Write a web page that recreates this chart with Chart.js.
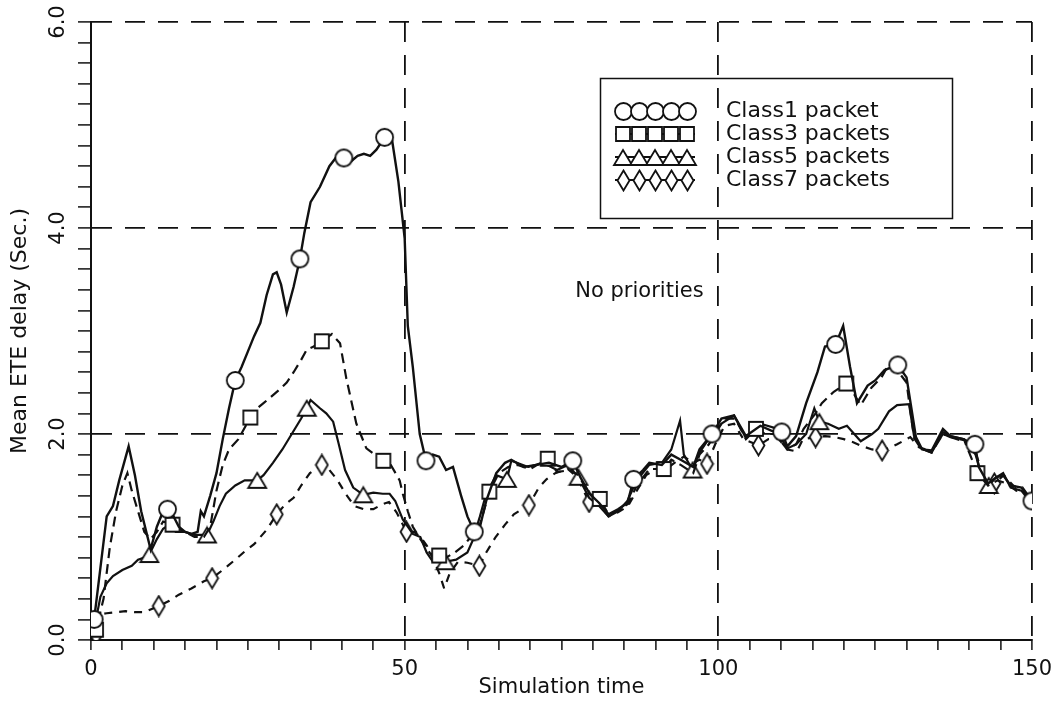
<!DOCTYPE html>
<html>
<head>
<meta charset="utf-8">
<title>Mean ETE delay - no priorities</title>
<script src="https://cdn.jsdelivr.net/npm/chart.js@4.4.1/dist/chart.umd.min.js"></script>
<style>
  html, body { margin: 0; padding: 0; background: #fff; }
  canvas { display: block; }
</style>
</head>
<body>
<canvas id="delay" width="1063" height="705"></canvas>
<script>
// mean end-to-end delay per packet class, sampled over simulation time
const c1Time = [0, 0.5, 1.5, 2.5, 3.5, 4.5, 6, 7, 8, 9.5, 10.5, 11.5, 12.2, 13, 14, 15, 16, 17, 17.5, 18, 19, 20, 21, 22, 23, 24, 25, 26, 27, 28, 29, 29.6, 30.3, 31.2, 32.3, 33.3, 34, 35, 36.5, 38, 39, 40.3, 41.5, 42.5, 43.5, 44.5, 45.5, 46.8, 48, 49, 50, 50.5, 51.3, 52.4, 53.4, 54.5, 55.5, 56.6, 57.7, 59, 60, 61.1, 62, 63, 64.6, 66, 67, 69, 71, 73, 75, 76.8, 78, 79.5, 81, 82.5, 84, 85.5, 86.5, 88, 89, 91, 92.5, 94, 96, 97, 99, 100.5, 102.5, 104.4, 106.7, 108.5, 110.1, 111, 112.4, 114, 115.8, 117, 118.7, 119.9, 121, 122.1, 123.8, 125, 126.5, 128.6, 130, 131.5, 132.5, 134, 135.8, 137, 139, 140.9, 141.5, 143, 144.3, 145.4, 146.6, 148.3, 150];
const c1Delay = [0.15, 0.2, 0.7, 1.2, 1.3, 1.55, 1.88, 1.6, 1.25, 0.88, 1.1, 1.25, 1.27, 1.22, 1.1, 1.05, 1.03, 1.05, 1.25, 1.2, 1.4, 1.62, 1.95, 2.25, 2.52, 2.65, 2.8, 2.95, 3.08, 3.35, 3.55, 3.57, 3.45, 3.18, 3.43, 3.7, 3.95, 4.25, 4.4, 4.6, 4.68, 4.68, 4.65, 4.7, 4.72, 4.7, 4.76, 4.88, 4.85, 4.45, 3.9, 3.05, 2.65, 2.0, 1.74, 1.8, 1.78, 1.65, 1.68, 1.4, 1.2, 1.05, 1.1, 1.35, 1.62, 1.72, 1.75, 1.68, 1.7, 1.72, 1.68, 1.74, 1.58, 1.42, 1.33, 1.22, 1.27, 1.33, 1.56, 1.65, 1.72, 1.7, 1.8, 1.75, 1.68, 1.85, 2.0, 2.15, 2.18, 1.98, 2.08, 2.03, 2.02, 1.88, 1.98, 2.3, 2.6, 2.85, 2.87, 3.05, 2.65, 2.3, 2.47, 2.52, 2.62, 2.67, 2.55, 1.97, 1.85, 1.84, 2.05, 1.98, 1.95, 1.9, 1.68, 1.52, 1.58, 1.6, 1.5, 1.48, 1.35];
const c1Marks = [0.5, 12.2, 23, 33.3, 40.3, 46.8, 53.4, 61.1, 76.8, 86.5, 99, 110.1, 118.7, 128.6, 140.9, 150];

const c3Time = [0, 0.8, 2, 3, 4, 5, 5.8, 6.5, 7.5, 8.5, 9.5, 10.5, 11.5, 13, 14, 15, 16.5, 18, 19, 20, 21, 22, 23.5, 25.4, 26.5, 27.5, 28.5, 30.2, 31.2, 32.3, 33.5, 34.4, 35.5, 36.8, 38.4, 39.7, 40.7, 42.3, 43.9, 46.6, 47.6, 49.2, 49.7, 50.5, 51.3, 52.5, 53.4, 54.5, 55.5, 56.6, 58, 59.5, 60.5, 61.9, 63.5, 65, 66.5, 68, 70, 72.8, 74.3, 76.3, 77.7, 79.4, 81.1, 82.5, 84, 85.6, 87, 89, 91.3, 92.5, 94, 96, 97, 98.5, 100, 101, 102.7, 104.4, 106, 107.5, 109, 111, 112.4, 113.6, 115.5, 116.5, 118.4, 120.4, 121.5, 122.7, 124.4, 126, 127.2, 128.5, 130, 131.2, 132.3, 134, 135.8, 137, 139.2, 141.3, 143, 144.5, 146, 147.5, 148.5, 150];
const c3Delay = [0.05, 0.1, 0.4, 0.9, 1.25, 1.5, 1.62, 1.45, 1.25, 1.05, 0.98, 1.05, 1.15, 1.12, 1.08, 1.05, 1.0, 1.0, 1.1, 1.45, 1.7, 1.85, 1.95, 2.16, 2.25, 2.3, 2.35, 2.44, 2.5, 2.6, 2.72, 2.82, 2.85, 2.9, 2.97, 2.88, 2.54, 2.1, 1.86, 1.74, 1.72, 1.55, 1.42, 1.25, 1.1, 0.98, 0.9, 0.8, 0.82, 0.8, 0.85, 0.92, 1.0, 1.1, 1.44, 1.62, 1.68, 1.7, 1.66, 1.76, 1.63, 1.65, 1.6, 1.42, 1.37, 1.22, 1.26, 1.32, 1.5, 1.66, 1.66, 1.75, 1.7, 1.62, 1.8, 1.9, 2.05, 2.15, 2.15, 1.95, 2.05, 2.0, 2.0, 1.85, 1.9, 2.05, 2.2, 2.3, 2.41, 2.49, 2.4, 2.28, 2.45, 2.55, 2.68, 2.62, 2.5, 1.96, 1.86, 1.82, 2.0, 1.97, 1.94, 1.62, 1.5, 1.55, 1.52, 1.45, 1.48, 1.35];
const c3Marks = [0.8, 13, 25.4, 36.8, 46.6, 55.5, 63.5, 72.8, 81.1, 91.3, 106, 120.4, 141.3];

const c5Time = [0, 0.8, 1.5, 2.5, 3.5, 5, 6.5, 7.5, 8.5, 9.3, 10.5, 11.5, 12.5, 13.5, 15, 16.5, 18.5, 19.5, 20.5, 21.5, 23, 24.5, 26.5, 27.5, 29, 30.5, 32, 33.5, 34.4, 35, 36.5, 37.5, 38.6, 39.5, 40.5, 41.8, 43.4, 45, 46.5, 47.6, 48.5, 49.7, 51.3, 52.5, 53.5, 54.5, 56.5, 58.2, 60, 60.8, 62, 63, 64.6, 66.3, 67, 69.7, 72, 74.3, 76, 77.7, 79.4, 81, 82.5, 84, 85.5, 87, 89, 91, 92.5, 93.9, 94.5, 95.9, 97, 99, 100.5, 102.5, 104.4, 106.7, 109, 111, 112.4, 114, 115.3, 116.1, 117.5, 119.2, 120.5, 122.7, 124.5, 125.5, 127.2, 128.5, 130.4, 131.2, 132.3, 134, 135.8, 137, 139.2, 141, 142, 143.1, 144.3, 145.4, 146.6, 148.3, 150];
const c5Delay = [0.1, 0.2, 0.42, 0.55, 0.62, 0.68, 0.72, 0.78, 0.8, 0.83, 0.98, 1.08, 1.12, 1.05, 1.05, 1.02, 1.02, 1.15, 1.3, 1.42, 1.5, 1.55, 1.55, 1.6, 1.72, 1.85, 2.0, 2.15, 2.25, 2.33, 2.25, 2.2, 2.12, 1.9, 1.65, 1.48, 1.41, 1.43, 1.42, 1.42, 1.35, 1.17, 1.03, 1.0, 0.85, 0.76, 0.76, 0.78, 0.85, 0.96, 1.2, 1.42, 1.6, 1.56, 1.74, 1.68, 1.72, 1.65, 1.7, 1.58, 1.38, 1.3, 1.2, 1.25, 1.35, 1.55, 1.7, 1.72, 1.85, 2.13, 1.8, 1.65, 1.82, 2.0, 2.1, 2.18, 1.96, 2.1, 2.06, 1.86, 1.9, 2.0, 2.25, 2.12, 2.1, 2.05, 2.08, 1.93, 2.0, 2.05, 2.22, 2.28, 2.29, 1.98, 1.86, 1.82, 2.02, 1.98, 1.95, 1.8, 1.6, 1.5, 1.58, 1.62, 1.48, 1.45, 1.32];
const c5Marks = [9.3, 18.5, 26.5, 34.4, 43.4, 56.5, 66.3, 77.7, 95.9, 116.1, 143.1];

const c7Time = [0, 0.8, 1.5, 2.5, 4, 5.5, 7, 8.5, 10.8, 12.5, 14, 16, 18, 19.3, 21, 22.8, 24.5, 26, 28, 29.6, 31, 32.3, 33.5, 34.9, 36.8, 38, 39.2, 40.7, 42, 43.5, 45, 46.5, 47.5, 48.7, 50.3, 51.5, 52.5, 53.5, 54.5, 55.5, 56.3, 57.2, 58.5, 60, 61.9, 63, 64.5, 66, 67.4, 69.8, 71.4, 72.6, 74, 76, 77.5, 79.4, 81, 82.5, 84, 85.6, 87, 88.5, 90, 91.5, 93, 94.5, 96, 97, 98.2, 99.5, 101, 102.5, 104, 106.4, 108, 109.5, 111, 112.5, 113.5, 115.5, 117, 118.5, 120, 121.5, 123, 124.5, 126.1, 127.5, 128.5, 130.6, 132, 134, 135.8, 137, 139, 141, 142.5, 144, 145.5, 147, 148.5, 150];
const c7Delay = [0.05, 0.05, 0.25, 0.26, 0.27, 0.28, 0.27, 0.27, 0.33, 0.38, 0.44, 0.5, 0.57, 0.6, 0.68, 0.77, 0.86, 0.93, 1.07, 1.22, 1.32, 1.38, 1.5, 1.62, 1.7, 1.65, 1.56, 1.41, 1.3, 1.27, 1.27, 1.32, 1.34, 1.24, 1.05, 1.05, 1.0, 0.92, 0.8, 0.65, 0.5, 0.65, 0.76, 0.75, 0.72, 0.85, 1.0, 1.12, 1.22, 1.31, 1.48, 1.56, 1.62, 1.66, 1.58, 1.34, 1.32, 1.2, 1.24, 1.3, 1.45, 1.6, 1.66, 1.65, 1.72, 1.78, 1.72, 1.75, 1.71, 1.9, 2.08, 2.1, 1.95, 1.89, 1.95, 1.96, 1.85, 1.83, 1.95, 1.97, 1.98, 1.97, 1.95, 1.92, 1.88, 1.85, 1.84, 1.87, 1.9, 1.97, 1.87, 1.83, 2.0, 1.97, 1.93, 1.82, 1.55, 1.52, 1.6, 1.5, 1.45, 1.33];
const c7Marks = [0.8, 10.8, 19.3, 29.6, 36.8, 50.3, 61.9, 69.8, 79.4, 98.2, 106.4, 115.5, 126.1, 144];

const classLabels = ['Class1 packet', 'Class3 packets', 'Class5 packets', 'Class7 packets'];
const noteText = 'No priorities';
const notePos = { x: 77.2, y: 3.33 };

const INK = '#111';
Chart.defaults.font.family = '"DejaVu Sans", sans-serif';
Chart.defaults.color = INK;

// hollow marker glyphs, used both on the curves and in the key
function makeMarker(kind) {
  const sizes = { circle: [21, 21], square: [18, 18], triangle: [22, 19], diamond: [15, 23] };
  const [w, h] = sizes[kind];
  const c = document.createElement('canvas');
  c.width = w; c.height = h;
  const g = c.getContext('2d');
  g.fillStyle = '#fff';
  g.strokeStyle = INK;
  g.lineWidth = 1.8;
  g.beginPath();
  if (kind === 'circle') {
    g.arc(w / 2, h / 2, 8.5, 0, Math.PI * 2);
  } else if (kind === 'square') {
    g.rect(2, 2, 14, 14);
  } else if (kind === 'triangle') {
    g.moveTo(w / 2, 2); g.lineTo(w - 2, h - 2); g.lineTo(2, h - 2); g.closePath();
  } else {
    g.moveTo(w / 2, 1.5); g.lineTo(w - 1.5, h / 2); g.lineTo(w / 2, h - 1.5); g.lineTo(1.5, h / 2); g.closePath();
  }
  g.fill();
  g.stroke();
  return c;
}

function series(times, values) {
  return times.map((t, i) => ({ x: t, y: values[i] }));
}

function markedAt(marks) {
  return (ctx) => (ctx.raw && marks.includes(ctx.raw.x)) ? 8 : 0;
}

const isMajor = (v, step) => {
  const r = Math.abs(v % step);
  return r < 1e-6 || Math.abs(r - step) < 1e-6;
};

// boxed key with a run of markers per class, plus the note in the plot
const keyBox = {
  id: 'keyBox',
  afterDraw(chart) {
    const ctx = chart.ctx;
    ctx.save();
    ctx.strokeStyle = INK;
    ctx.lineWidth = 1.5;
    ctx.setLineDash([]);
    ctx.strokeRect(600.5, 78.5, 352, 140);

    chart.data.datasets.forEach((ds, i) => {
      const y = Math.round(111 + i * 23);
      ctx.lineWidth = 2;
      ctx.beginPath();
      ctx.moveTo(615, y);
      ctx.lineTo(695, y);
      ctx.stroke();
      const img = ds.pointStyle;
      for (let k = 0; k < 5; k++) {
        ctx.drawImage(img, Math.round(623 + k * 16 - img.width / 2), Math.round(y - img.height / 2));
      }
      ctx.fillStyle = INK;
      ctx.font = '22px "DejaVu Sans"';
      ctx.textBaseline = 'middle';
      ctx.fillText(ds.label, 726, y);
    });

    const xs = chart.scales.x, ys = chart.scales.y;
    ctx.font = '21px "DejaVu Sans"';
    ctx.textBaseline = 'alphabetic';
    ctx.fillText(noteText, xs.getPixelForValue(notePos.x), ys.getPixelForValue(notePos.y));
    ctx.restore();
  }
};

new Chart(document.getElementById('delay'), {
  type: 'line',
  data: {
    datasets: [
      {
        label: classLabels[0],
        data: series(c1Time, c1Delay),
        borderColor: INK, borderWidth: 2.4,
        pointStyle: makeMarker('circle'), pointRadius: markedAt(c1Marks)
      },
      {
        label: classLabels[1],
        data: series(c3Time, c3Delay),
        borderColor: INK, borderWidth: 2.2, borderDash: [10, 6],
        pointStyle: makeMarker('square'), pointRadius: markedAt(c3Marks)
      },
      {
        label: classLabels[2],
        data: series(c5Time, c5Delay),
        borderColor: INK, borderWidth: 2.2,
        pointStyle: makeMarker('triangle'), pointRadius: markedAt(c5Marks)
      },
      {
        label: classLabels[3],
        data: series(c7Time, c7Delay),
        borderColor: INK, borderWidth: 2.2, borderDash: [8, 7],
        pointStyle: makeMarker('diamond'), pointRadius: markedAt(c7Marks)
      }
    ]
  },
  options: {
    responsive: false,
    animation: false,
    events: [],
    layout: { padding: { left: 0, right: 31, top: 22, bottom: 0 } },
    elements: { line: { tension: 0, fill: false } },
    plugins: { legend: { display: false }, tooltip: { enabled: false } },
    scales: {
      x: {
        type: 'linear', min: 0, max: 150,
        afterFit(scale) { scale.height = 65; },
        ticks: {
          stepSize: 5, autoSkip: false, maxRotation: 0, padding: 7,
          font: { size: 21 },
          callback: (v) => isMajor(v, 50) ? v : ''
        },
        grid: {
          color: (ctx) => (ctx.tick && ctx.tick.value > 0 && isMajor(ctx.tick.value, 50)) ? INK : 'rgba(0,0,0,0)',
          lineWidth: 1.8, tickColor: INK, tickWidth: 1.5, tickLength: 10
        },
        border: { color: INK, width: 2, dash: [20, 13] },
        title: { display: true, text: 'Simulation time', font: { size: 21 }, padding: { top: 0, bottom: 5 } }
      },
      y: {
        type: 'linear', min: 0, max: 6,
        afterFit(scale) { scale.width = 91; },
        ticks: {
          stepSize: 0.2, autoSkip: false, minRotation: 90, maxRotation: 90,
          crossAlign: 'center', padding: 3,
          font: { size: 21 },
          callback: (v) => isMajor(v, 2) ? v.toFixed(1) : ''
        },
        grid: {
          color: (ctx) => (ctx.tick && ctx.tick.value > 0 && isMajor(ctx.tick.value, 2)) ? INK : 'rgba(0,0,0,0)',
          lineWidth: 1.8, tickColor: INK, tickWidth: 1.5, tickLength: 13
        },
        border: { color: INK, width: 2, dash: [20, 13] },
        title: { display: true, text: 'Mean ETE delay (Sec.)', font: { size: 22 }, padding: { top: 7, bottom: 0 } }
      }
    }
  },
  plugins: [keyBox]
});
</script>
</body>
</html>
